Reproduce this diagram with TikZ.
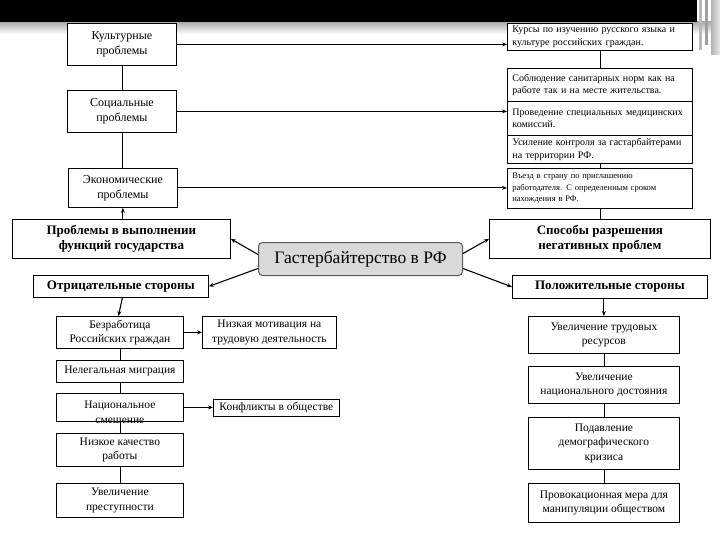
\documentclass[tikz,border=0pt]{standalone}
\usepackage{fontspec}
\setmainfont{Liberation Serif}
\usetikzlibrary{arrows.meta,calc}
\tikzset{
  box/.style={draw=black, fill=white, line width=0.8pt, anchor=north west, inner sep=1pt, align=center},
  fsmall/.style={font=\fontsize{10}{12.5}\selectfont},
  ftiny/.style={font=\fontsize{8.5}{11.5}\selectfont},
  fmid/.style={font=\fontsize{11.5}{14.5}\selectfont},
  fbig/.style={font=\fontsize{12}{15}\selectfont},
  fbold/.style={font=\fontsize{13}{15.5}\selectfont\bfseries},
  lbox/.style={box, align=left, inner xsep=5pt, text width=175pt},
  arr/.style={-{Stealth[length=5pt,width=4pt]}, line width=1.1pt},
  ln/.style={line width=0.8pt},
}
\begin{document}
\begin{tikzpicture}[x=1pt,y=-1pt]
\useasboundingbox (0,0) rectangle (720,540);
% header band
\shade[top color=gray!65, bottom color=white] (0,22) rectangle (720,34);
\fill[gray!55] (699,0) rectangle (702,50);
\fill[gray!75] (705,0) rectangle (708,45);
\shade[left color=gray!60, right color=gray!15] (711,0) rectangle (720,55);
\fill[black] (0,0) rectangle (697,22);

% left top column
\node[box,fbig,minimum width=109,minimum height=42] (kult) at (67,23) {Культурные\\проблемы};
\node[box,fbig,minimum width=109,minimum height=42] (soc) at (67,90) {Социальные\\проблемы};
\node[box,fbig,minimum width=109,minimum height=39] (econ) at (68,168) {Экономические\\проблемы};
\node[box,fbold,minimum width=218,minimum height=39] (probl) at (12,219) {Проблемы в выполнении\\функций государства};
\node[box,fbold,minimum width=175,minimum height=22] (otr) at (33,275) {Отрицательные стороны};

% center
\node[draw=gray!70!black, fill=gray!30, line width=1pt, rounded corners=4pt, anchor=north west,
  minimum width=204, minimum height=33, inner sep=1pt, font=\fontsize{17.5}{20}\selectfont] (center) at (258,242) {Гастербайтерство в РФ};

% right top column
\node[lbox,fsmall,minimum height=27] (kurs) at (507,23) {Курсы по изучению русского языка и\\культуре российских граждан.};
\node[lbox,fsmall,minimum height=33] (sobl) at (507,68) {Соблюдение санитарных норм  как на\\работе так и на месте жительства.};
\node[lbox,fsmall,minimum height=34] (prov) at (507,101) {Проведение специальных медицинских\\комиссий.};
\node[lbox,fsmall,minimum height=28] (usil) at (507,135) {Усиление контроля за гастарбайтерами\\на территории  РФ.};
\node[lbox,ftiny,minimum height=40] (vezd) at (507,168) {Въезд в страну по приглашению\\работодателя. С определенным сроком\\нахождения в РФ.};
\node[box,fbold,minimum width=221,minimum height=39] (spos) at (489,219) {Способы разрешения\\негативных проблем};
\node[box,fbold,minimum width=195,minimum height=23] (pol) at (512,275) {Положительные стороны};

% bottom left
\node[box,fmid,minimum width=127,minimum height=32] (bezr) at (56,316) {Безработица\\Российских граждан};
\node[box,fmid,minimum width=134,minimum height=32] (motiv) at (202,316) {Низкая мотивация на\\трудовую деятельность};
\node[box,fmid,minimum width=127,minimum height=22] (neleg) at (56,360) {Нелегальная миграция};
\node[box,minimum width=127,minimum height=28,
  label={[fmid,align=center,yshift=-5pt]center:{Национальное\\смешение}}] (nac) at (56,393) {};
\node[box,fmid,minimum width=126,minimum height=17] (konf) at (213,399) {Конфликты в обществе};
\node[box,fmid,minimum width=127,minimum height=33] (kach) at (56,433) {Низкое качество\\работы};
\node[box,fmid,minimum width=127,minimum height=34] (prest) at (56,483) {Увеличение\\преступности};

% bottom right
\node[box,fmid,minimum width=151,minimum height=37] (uvtr) at (528,316) {Увеличение трудовых\\ресурсов};
\node[box,fmid,minimum width=151,minimum height=37] (uvnac) at (528,366) {Увеличение\\национального достояния};
\node[box,fmid,minimum width=151,minimum height=52] (podav) at (528,417) {Подавление\\демографического\\кризиса};
\node[box,fmid,minimum width=151,minimum height=39] (provok) at (528,483) {Провокационная мера для\\манипуляции обществом};

% connectors top
\draw[arr] (kult.east) -- (kult.east -| kurs.west);
\draw[arr] (soc.east) -- (soc.east -| prov.west);
\draw[arr] (econ.east) -- (econ.east -| vezd.west);
\draw[ln] (kult.south) -- (soc.north);
\draw[ln] (soc.south) -- (soc.south |- econ.north);
\draw[arr] (probl.north -| econ.south) -- (econ.south);
\draw[ln] (kurs.south) -- (sobl.north);
\draw[ln] (usil.south) -- (vezd.north);
\draw[ln] (vezd.south) -- (vezd.south |- spos.north);

% center connectors
\draw[arr] ([yshift=4.5pt]center.west) -- (probl.east);
\draw[arr] ([yshift=-9.5pt]center.west) -- (otr.east);
\draw[arr] ([yshift=5.5pt]center.east) -- (spos.west);
\draw[arr] ([yshift=-9.5pt]center.east) -- (pol.west);

% bottom connectors
\draw[arr] ([xshift=1.5pt]otr.south) -- ([xshift=-1.5pt]bezr.north);
\draw[arr] (bezr.east) -- (motiv.west);
\draw[ln] (bezr.south) -- (neleg.north);
\draw[ln] (neleg.south) -- (nac.north);
\draw[ln] (nac.south) -- (kach.north);
\draw[ln] (kach.south) -- (prest.north);
\draw[arr] (nac.east) -- (nac.east -| konf.west);
\draw[arr] (pol.south -| uvtr.north) -- (uvtr.north);
\draw[ln] (uvtr.south) -- (uvnac.north);
\draw[ln] (uvnac.south) -- (podav.north);
\draw[ln] (podav.south) -- (provok.north);
\end{tikzpicture}
\end{document}
